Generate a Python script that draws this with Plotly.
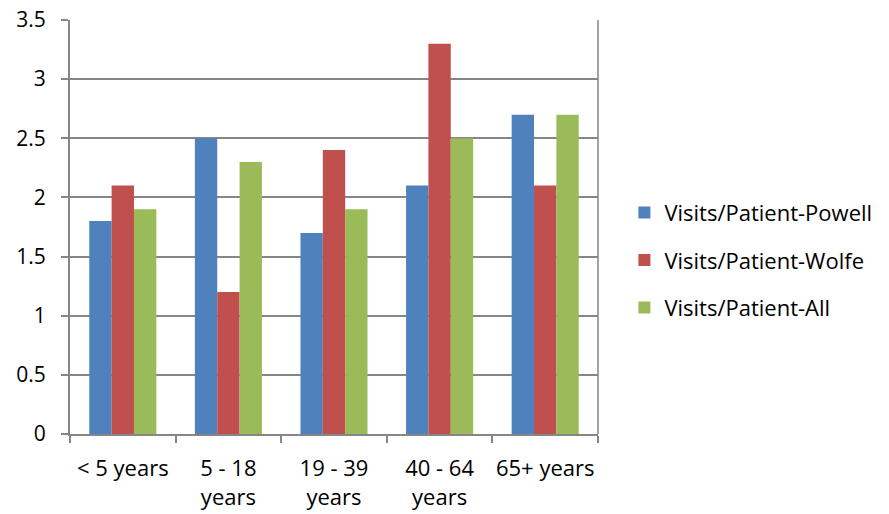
import plotly.graph_objects as go

categories = ["< 5 years", "5 - 18<br>years", "19 - 39<br>years", "40 - 64<br>years", "65+ years"]
powell = [1.8, 2.5, 1.7, 2.1, 2.7]
wolfe = [2.1, 1.2, 2.4, 3.3, 2.1]
all_patients = [1.9, 2.3, 1.9, 2.5, 2.7]

series = [
    ("Visits/Patient-Powell", powell, "#4F81BD"),
    ("Visits/Patient-Wolfe", wolfe, "#C0504D"),
    ("Visits/Patient-All", all_patients, "#9BBB59"),
]

fig = go.Figure()
for i, (name, vals, color) in enumerate(series):
    fig.add_trace(go.Bar(
        x=categories, y=vals, name=name, marker_color=color,
        marker_line_width=0, legendgroup=f"g{i}",
    ))

font_family = "'Open Sans', sans-serif"
fig.update_layout(
    width=889, height=514,
    margin=dict(l=70, r=291, t=20, b=80),
    paper_bgcolor="white", plot_bgcolor="white",
    barmode="group", bargap=0.365, bargroupgap=0,
    font=dict(family=font_family, size=21, color="black"),
    legend=dict(
        x=1.05, y=0.42, xanchor="left", yanchor="middle",
        font=dict(size=22, family=font_family),
        tracegroupgap=16, itemwidth=30,
    ),
    xaxis=dict(
        showline=True, linecolor="#868686", linewidth=2,
        ticks="outside", ticklen=7, tickcolor="#868686", tickwidth=2,
        tickson="boundaries", showgrid=False, automargin=False,
        tickangle=0, ticklabelstandoff=14, tickfont=dict(size=22),
    ),
    yaxis=dict(
        range=[0, 3.5], dtick=0.5, showline=True, linecolor="#868686", linewidth=2,
        ticks="outside", ticklen=7, tickcolor="#868686", tickwidth=2,
        showgrid=True, gridcolor="#868686", gridwidth=1.5, automargin=False,
        zeroline=False, ticklabelstandoff=11, tickfont=dict(size=21),
    ),
)
# Right-hand frame line of the plot area
fig.add_shape(type="line", xref="paper", yref="paper", x0=1, x1=1, y0=0, y1=1,
              line=dict(color="#868686", width=1.5))

fig.write_html("out.html")
